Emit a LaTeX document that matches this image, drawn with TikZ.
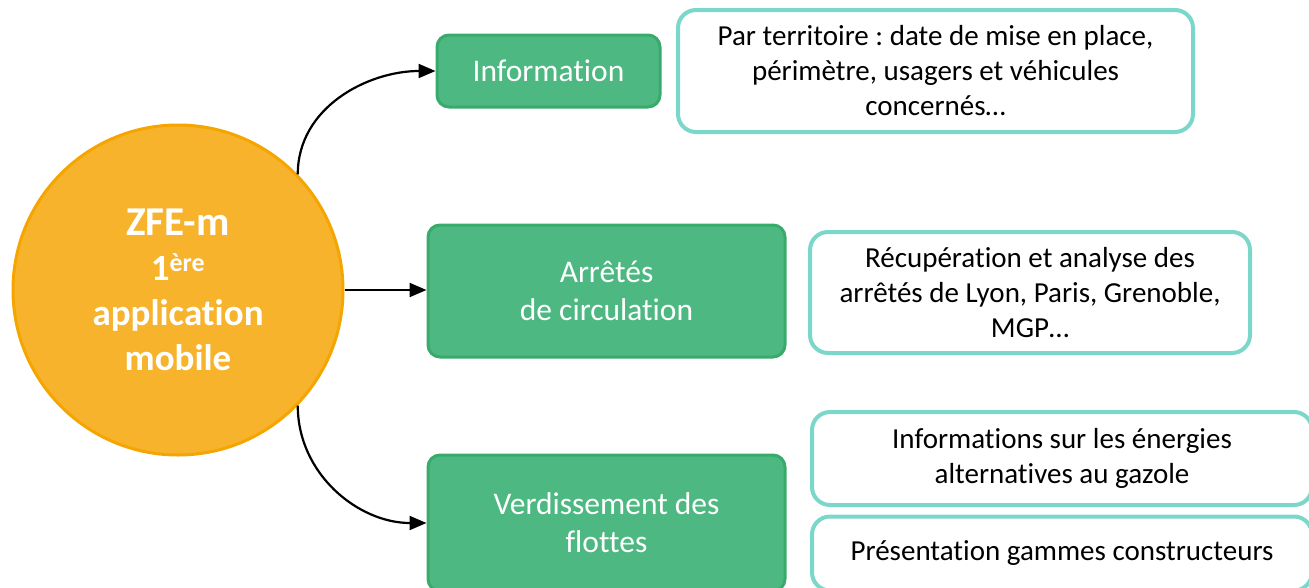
\documentclass[tikz,border=0pt]{standalone}
\usepackage{fontspec}
\setmainfont{Carlito}[Ligatures=NoCommon]
\frenchspacing
\usepackage{xcolor}
\usepackage{tikz}
\usetikzlibrary{arrows.meta, calc, positioning, shapes}
\tikzset{
    mybox/.style={draw=GreenLine,fill=GreenFill,line width=3pt,rounded corners=12pt,
      align=center,text=white,inner sep=0pt,font=\fontsize{31.5}{38}\selectfont},
    mytext/.style={draw=TealLine,fill=white,line width=4pt,rounded corners=18pt,
      align=center,text=black,inner sep=0pt,font=\fontsize{29}{35}\selectfont},
    myarrow/.style={line width=2.2pt,-{Triangle[length=17pt,width=14pt]}}
}
\definecolor{OrangeFill}{HTML}{F7B32B}
\definecolor{OrangeLine}{HTML}{F5A500}
\definecolor{GreenFill}{HTML}{4DB882}
\definecolor{GreenLine}{HTML}{38AB6C}
\definecolor{TealLine}{HTML}{7AD7CA}

\begin{document}
\begin{tikzpicture}[x=1pt,y=-1pt]
  \useasboundingbox (0,0) rectangle (1309,587);

  % centre
  \node[circle,draw=OrangeLine,fill=OrangeFill,line width=3pt,minimum size=330pt,
        inner sep=0pt,align=center,text=white,font=\bfseries\fontsize{37}{45}\selectfont]
        (zfe) at (178,290)
        {{\fontsize{41}{45}\selectfont ZFE-m}\\1\textsuperscript{ère}\\application\\mobile};

  % branches
  \node[mybox,minimum width=223pt,minimum height=72pt] (info) at (548.5,71) {Information};
  \node[mybox,minimum width=357pt,minimum height=132pt] (arretes) at (606.5,291) {Arrêtés\\de circulation};
  \node[mybox,minimum width=357pt,minimum height=136pt] (verdis) at (606.5,523) {Verdissement des\\flottes};

  % details
  \node[mytext,minimum width=515pt,minimum height=122pt] (infodet) at (935.5,71)
        {Par territoire : date de mise en place,\\périmètre, usagers et véhicules\\concernés…};
  \node[mytext,minimum width=440pt,minimum height=121pt] (arrdet) at (1030,292.5)
        {Récupération et analyse des\\arrêtés de Lyon, Paris, Grenoble,\\MGP…};
  \node[mytext,minimum width=500pt,minimum height=93pt] (energ) at (1062,458.5)
        {Informations sur les énergies\\alternatives au gazole};
  \node[mytext,minimum width=500pt,minimum height=74pt] (gammes) at (1062,553.5)
        {Présentation gammes constructeurs};

  \draw[myarrow] (zfe.44) to[out=90,in=180] (info.west);
  \draw[myarrow] (zfe.east) -- (zfe.east -| arretes.west);
  \draw[myarrow] (zfe.-44) to[out=-90,in=180] (verdis.west);
\end{tikzpicture}
\end{document}
